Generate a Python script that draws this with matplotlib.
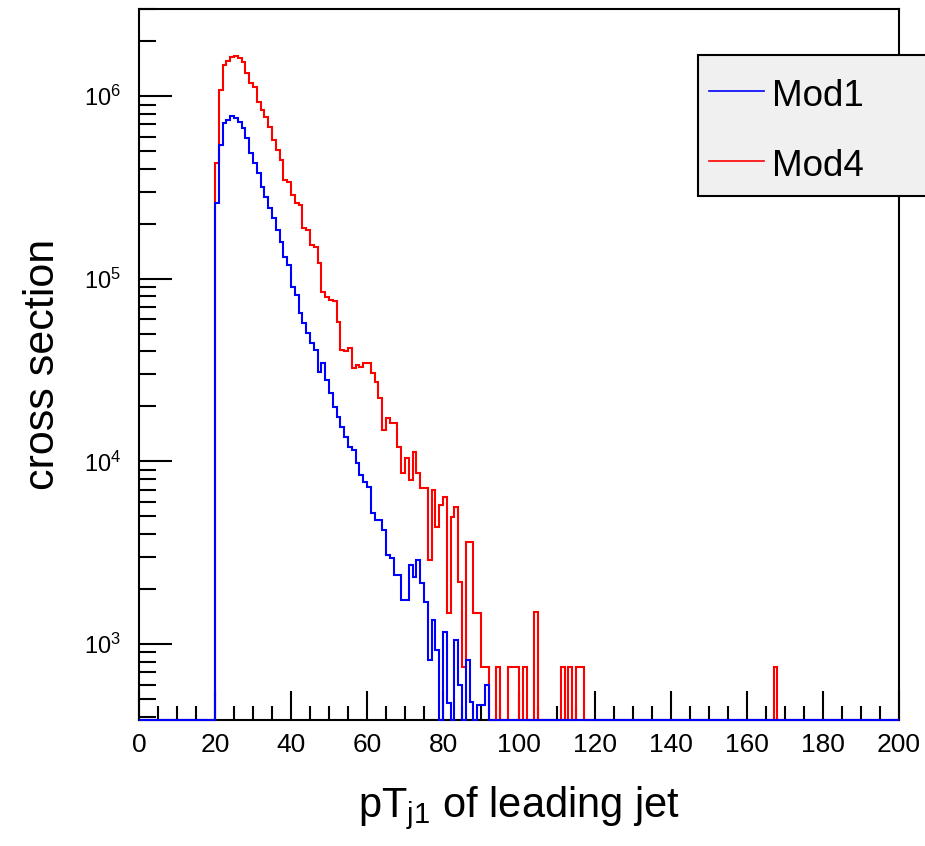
import numpy as np
import matplotlib.pyplot as plt
from matplotlib.patches import Rectangle
from matplotlib.lines import Line2D
from matplotlib.ticker import MultipleLocator, LogLocator

plt.rcParams['font.family'] = ['Liberation Sans', 'DejaVu Sans']
plt.rcParams['mathtext.fontset'] = 'custom'
plt.rcParams['mathtext.rm'] = 'Liberation Sans'
plt.rcParams['mathtext.it'] = 'Liberation Sans'

# Histogram: 200 bins of 1 GeV from 0 to 200
bin_edges = np.arange(0, 201, 1)

# Mod1 (blue), bins 20..91
mod1_first_bin = 20
mod1_counts = [2.59e5, 5.40e5, 7.12e5, 7.39e5, 7.78e5, 7.58e5, 7.21e5, 6.68e5, 5.89e5, 4.88e5,
               4.30e5, 3.79e5, 3.17e5, 2.80e5, 2.44e5, 2.15e5, 1.85e5, 1.59e5, 1.31e5, 1.19e5,
               9.0e4, 8.14e4, 6.49e4, 5.72e4, 5.04e4, 4.45e4, 4.07e4, 3.08e4, 3.45e4, 2.79e4,
               2.37e4, 1.98e4, 1.75e4, 1.54e4, 1.36e4, 1.20e4, 1.15e4, 9.8e3, 8.4e3, 7.7e3,
               7.24e3, 5.22e3, 4.78e3, 4.78e3, 4.21e3, 3.07e3, 2.96e3, 2.39e3, 2.39e3, 1.74e3,
               1.74e3, 2.71e3, 2.33e3, 2.88e3, 2.16e3, 1.70e3, 817, 1.35e3, 927, 0,
               1.16e3, 475, 0, 1.05e3, 597, 0, 817, 482, 0, 463,
               463, 597]

# Mod4 (red), bins 20..91 plus isolated tail entries
mod4_first_bin = 20
mod4_counts = [4.30e5, 1.08e6, 1.48e6, 1.56e6, 1.63e6, 1.66e6, 1.61e6, 1.53e6, 1.34e6, 1.18e6,
               1.12e6, 9.27e5, 8.38e5, 7.67e5, 6.76e5, 5.74e5, 5.06e5, 4.46e5, 3.47e5, 3.38e5,
               2.87e5, 2.59e5, 2.53e5, 1.89e5, 1.85e5, 1.53e5, 1.49e5, 1.22e5, 8.45e4, 7.94e4,
               7.64e4, 7.55e4, 5.79e4, 4.07e4, 4.02e4, 4.17e4, 3.24e4, 3.37e4, 3.28e4, 3.45e4,
               3.45e4, 3.05e4, 2.72e4, 2.22e4, 1.49e4, 1.73e4, 1.62e4, 1.62e4, 1.20e4, 8.65e3,
               1.04e4, 7.91e3, 1.12e4, 8.65e3, 7.15e3, 7.15e3, 2.88e3, 7.0e3, 4.37e3, 5.77e3,
               6.38e3, 1.48e3, 4.96e3, 5.62e3, 2.18e3, 748, 3.61e3, 3.61e3, 1.48e3, 1.48e3,
               748, 748]
mod4_tail_bins = [94, 97, 98, 99, 101, 104, 111, 113, 115, 116, 167]
mod4_tail_counts = [748, 748, 748, 748, 748, 1490, 748, 748, 748, 748, 748]

labels = ['Mod1', 'Mod4']
colors = ['#0000ff', '#ff0000']

ymin, ymax = 384, 3.0e6


def full_hist(first_bin, counts, tail_bins=(), tail_counts=()):
    h = np.zeros(len(bin_edges) - 1)
    h[first_bin:first_bin + len(counts)] = counts
    for b, c in zip(tail_bins, tail_counts):
        h[b] = c
    return h


h1 = full_hist(mod1_first_bin, mod1_counts)
h4 = full_hist(mod4_first_bin, mod4_counts, mod4_tail_bins, mod4_tail_counts)

fig = plt.figure(figsize=(9.25, 8.46), dpi=100)
ax = fig.add_axes([139 / 925, 1 - 720 / 846, 760 / 925, 711 / 846])

# empty bins sit on the lower edge, like ROOT does
ax.stairs(np.maximum(h4, ymin), bin_edges, color=colors[1], lw=1.5, baseline=None,
          clip_on=False, zorder=3)
ax.stairs(np.maximum(h1, ymin), bin_edges, color=colors[0], lw=1.5, baseline=None,
          clip_on=False, zorder=3)

ax.set_yscale('log')
ax.set_xlim(0, 200)
ax.set_ylim(ymin, ymax)

ax.xaxis.set_major_locator(MultipleLocator(20))
ax.xaxis.set_minor_locator(MultipleLocator(5))
ax.yaxis.set_major_locator(LogLocator(base=10))
ax.yaxis.set_minor_locator(LogLocator(base=10, subs=np.arange(2, 10)))

ax.tick_params(axis='x', which='major', direction='in', length=21, width=1.5,
               labelsize=19, pad=9)
ax.tick_params(axis='x', which='minor', direction='in', length=10, width=1.5)
ax.tick_params(axis='y', which='major', direction='in', length=24, width=1.5,
               labelsize=17, pad=13)
ax.tick_params(axis='y', which='minor', direction='in', length=12, width=1.5)
for s in ax.spines.values():
    s.set_linewidth(1.5)

ax.set_xlabel(r'pT$_{\rm j1}$ of leading jet', fontsize=30)
ax.xaxis.set_label_coords(0.5, -0.09)
ax.set_ylabel('cross section', fontsize=31)
ax.yaxis.set_label_coords(-0.1, 0.5)

# legend box (ROOT TLegend style, runs off the right edge)
tf = fig.transFigure
fig.patches.append(Rectangle((698 / 925, 1 - 196 / 846), 0.3, 141 / 846, transform=tf,
                             facecolor='#f0f0f0', edgecolor='black', lw=1.5, zorder=5))
for i, (lab, col) in enumerate(zip(labels, colors)):
    yy = 1 - (91 + 70 * i) / 846
    fig.lines.append(Line2D([709 / 925, 764 / 925], [yy, yy], transform=tf, color=col,
                            lw=1.2, zorder=6))
    fig.text(772 / 925, 1 - (106 + 70 * i) / 846, lab, fontsize=26.5, va='baseline',
             ha='left', zorder=6)

fig.savefig('out.png', dpi=100)
